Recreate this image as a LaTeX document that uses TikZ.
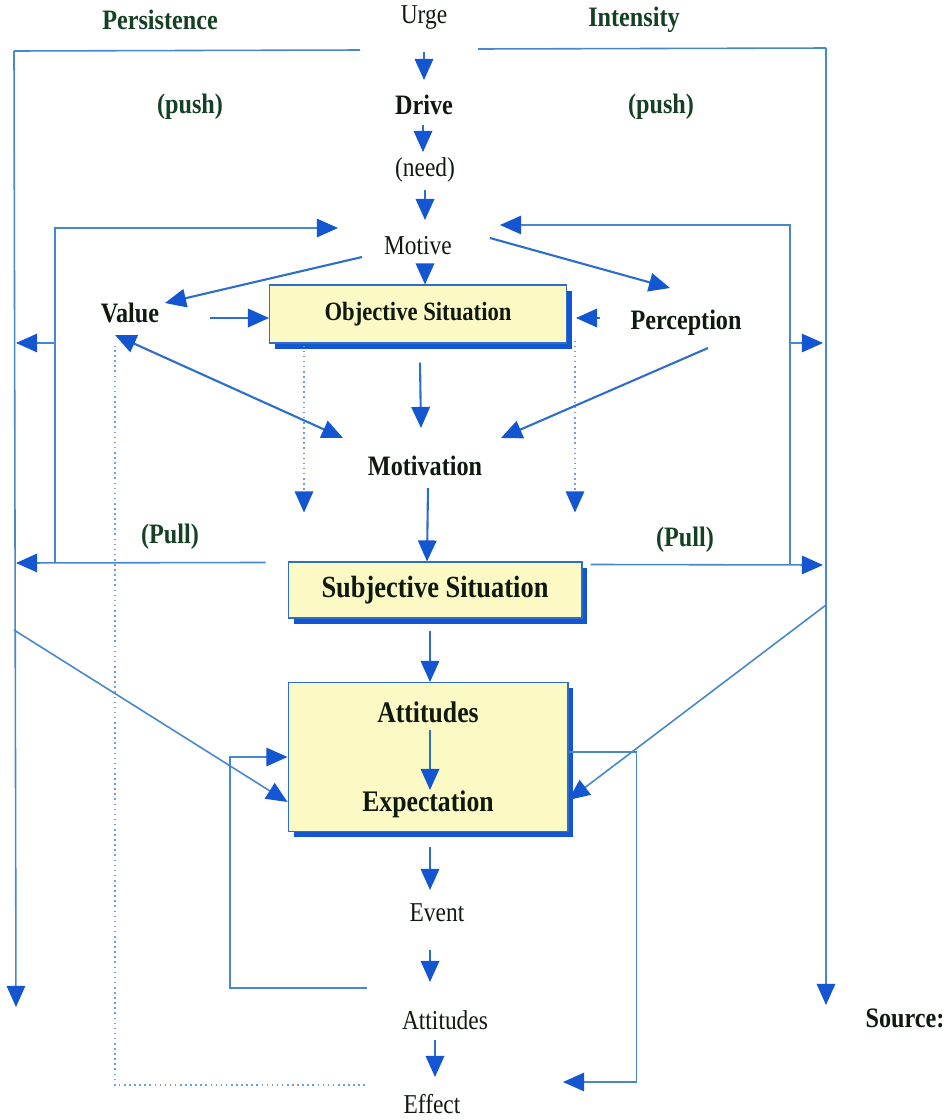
\documentclass[tikz,border=0pt]{standalone}
\usepackage{fontspec}
\setmainfont[FakeStretch=0.86]{Liberation Serif}
\usetikzlibrary{arrows.meta,calc,shadows}
\definecolor{lineblue}{RGB}{45,110,205}
\definecolor{tipblue}{RGB}{20,85,210}
\definecolor{frameblue}{RGB}{70,135,205}
\definecolor{dotblue}{RGB}{110,160,215}
\definecolor{txtgreen}{RGB}{20,65,35}
\definecolor{txtdark}{RGB}{15,25,15}
\definecolor{boxyellow}{RGB}{252,250,196}
\tikzset{
  lbl/.style={inner sep=0pt, text=txtdark, font=\fontsize{15.5}{17}\selectfont},
  blbl/.style={inner sep=0pt, text=txtdark, font=\fontsize{16}{18}\selectfont\bfseries},
  glbl/.style={blbl, text=txtgreen},
  arr/.style={draw=lineblue, line width=1.2pt, ->},
  darr/.style={draw=lineblue, line width=1.2pt, <->},
  frame/.style={draw=frameblue, line width=0.9pt},
  dot/.style={draw=dotblue, line width=0.9pt, dotted},
  box/.style={draw=lineblue, line width=0.6pt, fill=boxyellow, inner sep=0pt, text=txtdark,
    drop shadow={opacity=1, fill=tipblue, shadow xshift=1.1mm, shadow yshift=-1.1mm}},
}
\begin{document}
\begin{tikzpicture}[x=0.02cm, y=-0.02cm, >={Triangle[length=12pt,width=10.5pt,color=tipblue]}]
\useasboundingbox (0,0) rectangle (951,1120);

% labels
\node[glbl] (persist) at (160,20) {Persistence};
\node[lbl]  (urge) at (424,18) {Urge};
\node[glbl] (intens) at (634,20) {Intensity};
\node[glbl] (push1) at (190,107) {(push)};
\node[glbl] (push2) at (661,107) {(push)};
\node[blbl] (drive) at (424,105) {Drive};
\node[lbl]  (need) at (425,170) {(need)};
\node[lbl]  (motive) at (418,246) {Motive};
\node[blbl] (value) at (130,313) {Value};
\node[box, minimum width=5.94cm, minimum height=1.16cm, font=\fontsize{15}{17}\selectfont\bfseries] (objsit) at (418,314) {Objective Situation};
\node[blbl] (perc) at (686,323) {Perception};
\node[blbl] (motivation) at (425,466) {Motivation};
\node[glbl] (pull1) at (170,537) {(Pull)};
\node[glbl] (pull2) at (685,540) {(Pull)};
\node[box, minimum width=5.88cm, minimum height=1.12cm, font=\fontsize{17.5}{19}\selectfont\bfseries] (subjsit) at (435,590) {Subjective Situation};
\node[box, minimum width=5.6cm, minimum height=2.98cm] (attbox) at (428,757) {};
\node[blbl, font=\fontsize{17}{19}\selectfont\bfseries] (att1) at (428,712) {Attitudes};
\node[blbl, font=\fontsize{17}{19}\selectfont\bfseries] (expect) at (428,804) {Expectation};
\node[lbl]  (event) at (437,913) {Event};
\node[lbl]  (att2) at (445,1020) {Attitudes};
\node[lbl]  (effect) at (432,1104) {Effect};
\node[blbl] (source) at (905,1018) {Source:};

% frame coordinates
\coordinate (ltop) at (14,51);
\coordinate (lbot) at (16,1007);
\coordinate (rtop) at (826,48);
\coordinate (rbot) at (826,1005);
\coordinate (lin) at (55,563);
\coordinate (rin) at (790,565);

% outer frame
\draw[frame] ($(urge)+(-64,32)$) -- (ltop);
\draw[arr,frame] (ltop) -- (lbot);
\draw[frame] ($(urge)+(54,31)$) -- (rtop);
\draw[arr,frame] (rtop) -- (rbot);

% inner loops
\draw[arr,frame] (lin) |- ($(motive)+(-80,-18)$);
\draw[arr,frame] ($(lin)+(0,-220)$) -- ($(ltop)+(2,292)$);
\draw[arr,frame] ($(subjsit.north west)+(-22,1)$) -- ($(lin)+(-39,0)$);
\draw[arr,frame] (rin) |- ($(motive)+(82,-21)$);
\draw[arr,frame] ($(rin)+(0,-222)$) -- ($(rin)+(33,-222)$);
\draw[arr,frame] ($(subjsit.north east)+(8,3)$) -- ($(rin)+(33,0)$);

% diagonals into attitudes box
\draw[arr,frame] ($(ltop)+(0,579)$) -- ($(attbox.west)+(0,45)$);
\draw[arr,frame] ($(rtop)+(0,557)$) -- ($(attbox.east)+(0,43)$);

% central chain
\draw[arr] ($(urge)+(0,34)$) -- ($(drive)+(0,-25)$);
\draw[arr] ($(drive)+(-1,20)$) -- ($(need)+(-2,-18)$);
\draw[arr] ($(need)+(0,20)$) -- ($(motive)+(7,-26)$);
\draw[arr] ($(motive)+(7,22)$) -- ($(objsit.north)+(7,0)$);
\draw[arr] ($(motive)+(-56,11)$) -- ($(value)+(35,-10)$);
\draw[arr] ($(motive)+(72,-8)$) -- ($(perc)+(-16,-35)$);
\draw[arr] ($(value)+(80,5)$) -- ($(objsit.west)+(0,4)$);
\draw[arr] ($(perc)+(-86,-5)$) -- ($(objsit.east)+(9,4)$);
\draw[darr] ($(value)+(-15,22)$) -- ($(motivation)+(-82,-28)$);
\draw[arr] ($(objsit.south)+(2,19)$) -- ($(motivation)+(-4,-38)$);
\draw[arr] ($(perc)+(22,25)$) -- ($(motivation)+(76,-28)$);
\draw[arr] ($(motivation)+(3,22)$) -- ($(subjsit.north)+(-8,0)$);
\draw[arr] ($(subjsit.south)+(-5,12)$) -- ($(attbox.north)+(2,0)$);
\draw[arr] ($(att1)+(2,18)$) -- ($(expect)+(2,-14)$);
\draw[arr] ($(attbox.south)+(2,15)$) -- ($(event)+(-7,-23)$);
\draw[arr] ($(event)+(-7,37)$) -- ($(att2)+(-15,-38)$);
\draw[arr] ($(att2)+(-10,20)$) -- ($(effect)+(3,-27)$);

% feedback loops
\draw[arr,frame] ($(att2)+(-78,-32)$) -- ++(-137,0) |- (attbox.west);
\draw[arr,frame] ($(attbox.east)+(0,-5)$) -- ++(68,0) |- ($(effect)+(131,-22)$);

% dotted lines
\draw[arr,dot] ($(objsit.south west)+(35,2)$) -- ++(0,167);
\draw[arr,dot] ($(objsit.south east)+(8,-3)$) -- ++(0,172);
\draw[dot] ($(effect)+(-67,-19)$) -| ($(value)+(-15,33)$);
\end{tikzpicture}
\end{document}
